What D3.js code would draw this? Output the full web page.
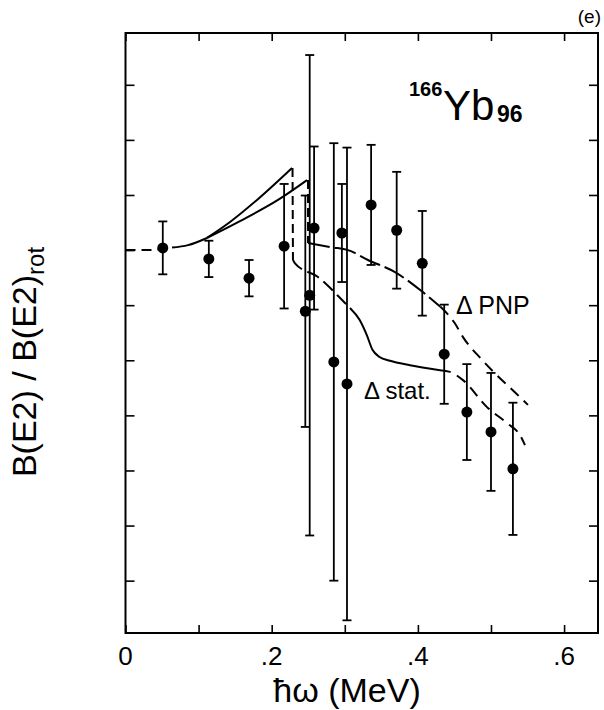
<!DOCTYPE html>
<html>
<head>
<meta charset="utf-8">
<script src="https://cdn.jsdelivr.net/npm/d3@7"></script>
<style>
  body { margin: 0; background: #fff; }
  text { font-family: "Liberation Sans", Arial, sans-serif; fill: #000; }
</style>
</head>
<body>
<svg id="chart"></svg>
<script>
// measured points: hbar omega (MeV), B(E2)/B(E2)rot, error
var hw    = [0.051, 0.114, 0.169, 0.217, 0.246, 0.258, 0.252, 0.296, 0.285, 0.303, 0.336, 0.371, 0.406, 0.436, 0.467, 0.500, 0.530];
var ratio = [1.004, 0.984, 0.949, 1.007, 0.889, 1.040, 0.918, 1.031, 0.797, 0.757, 1.082, 1.036, 0.976, 0.811, 0.706, 0.670, 0.603];
var err   = [0.048, 0.033, 0.033, 0.113, 0.210, 0.148, 0.436, 0.089, 0.397, 0.429, 0.109, 0.106, 0.095, 0.090, 0.087, 0.107, 0.120];

// calculated curves, [hw, ratio]
var commonDash  = [[0.0, 1.0], [0.027, 1.0], [0.051, 1.002], [0.0636, 1.0045]];
var commonSolid = [[0.0636, 1.0045], [0.0855, 1.009], [0.1115, 1.022]];
var statUp   = [[0.1115, 1.022], [0.143, 1.051], [0.1799, 1.091], [0.2278, 1.149]];
var statDrop = [[0.2285, 1.149], [0.2291, 0.982]];
var statMid  = [[0.2291, 0.982], [0.2319, 0.976], [0.2633, 0.951], [0.3003, 0.904], [0.3071, 0.895]];
var statLow  = [[0.3071, 0.895], [0.3204, 0.873], [0.330, 0.846], [0.3379, 0.819], [0.3475, 0.806], [0.3618, 0.799], [0.3892, 0.791], [0.4302, 0.782]];
var statTail = [[0.4302, 0.782], [0.4439, 0.779], [0.4617, 0.764], [0.4945, 0.715], [0.5219, 0.686], [0.5397, 0.664], [0.5465, 0.646]];
var pnpUp    = [[0.1115, 1.022], [0.1566, 1.0526], [0.2086, 1.091], [0.2483, 1.127]];
var pnpDrop  = [[0.2497, 1.127], [0.2497, 1.013]];
var pnpMid   = [[0.2497, 1.013], [0.2825, 1.005], [0.3044, 1.0], [0.3317, 0.982], [0.3687, 0.960], [0.4036, 0.927], [0.4309, 0.897]];
var pnpTail  = [[0.4309, 0.897], [0.4501, 0.868], [0.4617, 0.842], [0.4891, 0.799], [0.5397, 0.733], [0.5506, 0.719]];

var xTicks = d3.range(0, 0.65, 0.1);
var xLabels = [0, 0.2, 0.4, 0.6];
var yTicks = d3.range(0.4, 1.35, 0.1);

var width = 604, height = 710;
var svg = d3.select("#chart").attr("width", width).attr("height", height);

var x = d3.scaleLinear().domain([0, 0.6464]).range([125.5, 598]);
var y = d3.scaleLinear().domain([0.305, 1.394]).range([633, 33]);

// frame
svg.append("rect")
  .attr("x", x(0)).attr("y", y(1.394))
  .attr("width", x(0.6464) - x(0)).attr("height", y(0.305) - y(1.394))
  .attr("fill", "none").attr("stroke", "#000").attr("stroke-width", 2);

// inward ticks on all four sides
var axBottom = d3.axisBottom(x).tickValues(xTicks).tickSizeInner(-8).tickSizeOuter(0).tickFormat("");
var axTop = d3.axisTop(x).tickValues(xTicks).tickSizeInner(-8).tickSizeOuter(0).tickFormat("");
var axLeft = d3.axisLeft(y).tickValues(yTicks).tickSizeInner(-9).tickSizeOuter(0).tickFormat("");
var axRight = d3.axisRight(y).tickValues(yTicks).tickSizeInner(-9).tickSizeOuter(0).tickFormat("");

svg.append("g").attr("transform", "translate(0," + y(0.305) + ")").call(axBottom);
svg.append("g").attr("transform", "translate(0," + y(1.394) + ")").call(axTop);
svg.append("g").attr("transform", "translate(" + x(0) + ",0)").call(axLeft);
svg.append("g").attr("transform", "translate(" + x(0.6464) + ",0)").call(axRight);
svg.selectAll(".domain").remove();
svg.selectAll(".tick line").attr("stroke", "#000").attr("stroke-width", 1.6);

// x tick labels
svg.append("g").selectAll("text")
  .data(xLabels).enter().append("text")
  .attr("x", function(d) { return x(d); })
  .attr("y", 665)
  .attr("text-anchor", "middle")
  .attr("font-size", 26)
  .text(function(d) { return d === 0 ? "0" : d3.format(".1f")(d).replace(/^0/, ""); });

// axis titles
svg.append("text")
  .attr("x", 347).attr("y", 702)
  .attr("text-anchor", "middle")
  .attr("font-size", 34)
  .text("ħω (MeV)");

var yt = svg.append("text")
  .attr("transform", "translate(36,362) rotate(-90)")
  .attr("text-anchor", "middle")
  .attr("font-size", 34);
yt.append("tspan").text("B(E2) / B(E2)");
yt.append("tspan").attr("dy", 8).attr("font-size", 24).text("rot");

// curves
var line = d3.line()
  .x(function(d) { return x(d[0]); })
  .y(function(d) { return y(d[1]); })
  .curve(d3.curveMonotoneX);
var straight = d3.line()
  .x(function(d) { return x(d[0]); })
  .y(function(d) { return y(d[1]); });

var curves = [
  {pts: commonDash, dash: "10,6", gen: line},
  {pts: commonSolid, dash: null, gen: line},
  {pts: statUp, dash: null, gen: line},
  {pts: statDrop, dash: "9,5", gen: straight},
  {pts: statMid, dash: "13,6", gen: line},
  {pts: statLow, dash: null, gen: line},
  {pts: statTail, dash: "11,7", gen: line},
  {pts: pnpUp, dash: null, gen: line},
  {pts: pnpDrop, dash: "9,5", gen: straight},
  {pts: pnpMid, dash: "22,5", gen: line},
  {pts: pnpTail, dash: "11,7", gen: line}
];

svg.append("g").selectAll("path")
  .data(curves).enter().append("path")
  .attr("d", function(d) { return d.gen(d.pts); })
  .attr("fill", "none")
  .attr("stroke", "#000")
  .attr("stroke-width", 2)
  .attr("stroke-dasharray", function(d) { return d.dash; });

// error bars
var pts = hw.map(function(h, i) { return {x: h, y: ratio[i], e: err[i]}; });
var eb = svg.append("g").selectAll("g").data(pts).enter().append("g");
eb.append("line")
  .attr("x1", function(d) { return x(d.x); }).attr("x2", function(d) { return x(d.x); })
  .attr("y1", function(d) { return y(d.y - d.e); }).attr("y2", function(d) { return y(d.y + d.e); })
  .attr("stroke", "#000").attr("stroke-width", 1.8);
[-1, 1].forEach(function(s) {
  eb.append("line")
    .attr("x1", function(d) { return x(d.x) - 4.5; }).attr("x2", function(d) { return x(d.x) + 4.5; })
    .attr("y1", function(d) { return y(d.y + s * d.e); }).attr("y2", function(d) { return y(d.y + s * d.e); })
    .attr("stroke", "#000").attr("stroke-width", 1.8);
});
eb.append("circle")
  .attr("cx", function(d) { return x(d.x); })
  .attr("cy", function(d) { return y(d.y); })
  .attr("r", 5.5)
  .attr("fill", "#000");

// annotations
var nuc = svg.append("text").attr("y", 96);
nuc.append("tspan").attr("x", 409).attr("font-size", 20).attr("font-weight", "bold").text("166");
nuc.append("tspan").attr("x", 443).attr("y", 120).attr("font-size", 42).text("Yb");
nuc.append("tspan").attr("x", 497).attr("y", 122).attr("font-size", 23).attr("font-weight", "bold").text("96");

svg.append("text").attr("x", 456).attr("y", 314).attr("font-size", 25).text("Δ PNP");
svg.append("text").attr("x", 364).attr("y", 399).attr("font-size", 24).text("Δ stat.");
svg.append("text").attr("x", 601).attr("y", 23).attr("text-anchor", "end").attr("font-size", 19).text("(e)");
</script>
</body>
</html>
